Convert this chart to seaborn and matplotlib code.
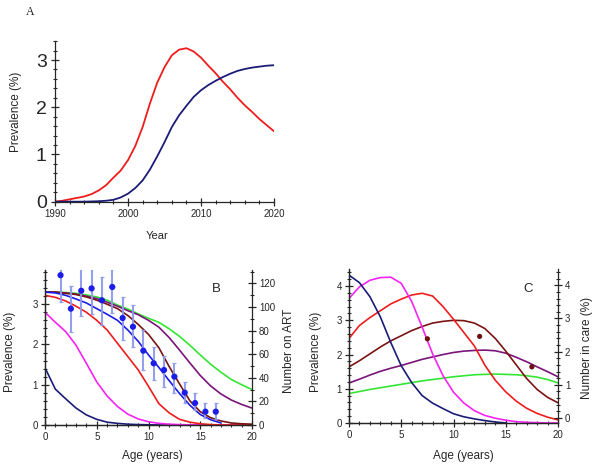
import numpy as np
import pandas as pd
import seaborn as sns
import matplotlib.pyplot as plt
from matplotlib.ticker import MultipleLocator

# ---- panel A: prevalence over calendar time
years = list(range(1990, 2021))
a_red = [0.0, 0.02, 0.05, 0.08, 0.11, 0.16, 0.24, 0.35, 0.51, 0.66, 0.88,
         1.18, 1.58, 2.08, 2.52, 2.85, 3.10, 3.22, 3.25, 3.18, 3.05,
         2.88, 2.72, 2.54, 2.38, 2.20, 2.04, 1.90, 1.75, 1.62, 1.49]
a_navy = [0.0, 0.0, 0.0, 0.0, 0.0, 0.005, 0.01, 0.02, 0.04, 0.09, 0.17,
          0.29, 0.45, 0.68, 0.96, 1.26, 1.58, 1.83, 2.03, 2.22, 2.36,
          2.47, 2.56, 2.64, 2.71, 2.77, 2.81, 2.84, 2.86, 2.88, 2.89]

# ---- panel B: prevalence by age, number on ART
ages = list(range(0, 21))
nan = np.nan
b_navy = [1.42, 0.89, 0.65, 0.42, 0.25, 0.14, 0.07, 0.04, 0.02, 0.01, 0.005,
          0.0, 0.0, 0.0, 0.0, 0.0, 0.0, 0.0, nan, nan, nan]
b_magenta = [2.80, 2.55, 2.32, 1.98, 1.53, 1.07, 0.72, 0.46, 0.27, 0.15, 0.08,
             0.04, 0.02, 0.01, 0.0, 0.0, 0.0, 0.0, 0.0, 0.0, 0.0]
b_red = [3.22, 3.17, 3.08, 2.95, 2.80, 2.60, 2.36, 2.03, 1.70, 1.37, 0.96,
         0.53, 0.30, 0.14, 0.07, 0.03, 0.01, 0.0, 0.0, 0.0, 0.0]
b_blue = [3.30, 3.28, 3.22, 3.13, 3.03, 2.89, 2.75, 2.60, 2.36, 2.08, 1.74,
          1.43, 1.10, 0.78, 0.49, 0.26, 0.13, 0.05, nan, nan, nan]
b_brown = [3.30, 3.30, 3.27, 3.24, 3.18, 3.10, 3.00, 2.89, 2.72, 2.50, 2.25,
           1.92, 1.45, 1.02, 0.60, 0.33, 0.18, 0.10, 0.05, 0.03, 0.02]
b_purple = [3.30, 3.30, 3.28, 3.25, 3.20, 3.14, 3.05, 2.95, 2.84, 2.74, 2.60,
            2.43, 2.17, 1.86, 1.54, 1.23, 0.97, 0.77, 0.62, 0.51, 0.42]
b_green = [3.30, 3.30, 3.29, 3.27, 3.23, 3.18, 3.10, 2.98, 2.88, 2.76, 2.65,
           2.55, 2.39, 2.20, 1.98, 1.74, 1.51, 1.31, 1.13, 1.00, 0.88]

art_age = [1.5, 2.5, 3.5, 4.5, 5.5, 6.5, 7.5, 8.5, 9.5, 10.5, 11.5, 12.5,
           13.5, 14.5, 15.5, 16.5]
art_n = [127, 98.6, 113.8, 115.8, 105.7, 117, 90.7, 83.3, 63, 52.3, 46.6,
         41, 27.4, 18.6, 11.3, 11.3]
art_lo = [104.5, 79, 92, 94, 84.7, 95, 72, 65.8, 46.6, 38, 32.5, 27.4,
          18.4, 12.7, 5.7, 4.8]
art_hi = [132, 117.8, 132, 132, 125.7, 132, 108.7, 101.7, 80.5, 66.4, 58.5,
          52.3, 36.7, 26.9, 18.4, 18.4]

# ---- panel C: prevalence by age, number in care
c_navy = [4.32, 4.10, 3.69, 3.10, 2.35, 1.67, 1.18, 0.80, 0.58, 0.42, 0.27,
          0.18, 0.12, 0.07, 0.03, 0.0, nan, nan, nan, nan, nan]
c_magenta = [3.64, 3.98, 4.17, 4.25, 4.26, 4.08, 3.55, 2.80, 2.02, 1.38, 0.90,
             0.58, 0.36, 0.22, 0.14, 0.08, 0.04, 0.02, 0.01, 0.0, 0.0]
c_red = [2.47, 2.85, 3.08, 3.28, 3.48, 3.62, 3.74, 3.79, 3.71, 3.40, 3.03,
         2.64, 2.25, 1.69, 1.25, 0.91, 0.64, 0.43, 0.28, 0.17, 0.09]
c_brown = [1.64, 1.82, 2.02, 2.22, 2.40, 2.55, 2.70, 2.82, 2.92, 2.97, 3.00,
           2.99, 2.92, 2.76, 2.47, 2.10, 1.70, 1.30, 0.98, 0.75, 0.59]
c_purple = [1.17, 1.28, 1.40, 1.51, 1.60, 1.68, 1.77, 1.86, 1.93, 2.00, 2.06,
            2.10, 2.12, 2.13, 2.11, 2.04, 1.92, 1.79, 1.64, 1.50, 1.35]
c_green = [0.86, 0.92, 0.98, 1.03, 1.08, 1.13, 1.18, 1.23, 1.27, 1.31, 1.35,
           1.38, 1.41, 1.42, 1.43, 1.42, 1.41, 1.38, 1.34, 1.27, 1.17]
care_age = [7.5, 12.5, 17.5]
care_prev = [2.46, 2.53, 1.64]

colors = {'navy': '#1b1b78', 'red': '#f01c1c', 'magenta': '#f523f5',
          'brown': '#7a1414', 'purple': '#7a147a', 'green': '#33e633',
          'blue': '#1c1ce8'}


def long_frame(x, series):
    frames = [pd.DataFrame({'x': x, 'y': vals, 'curve': name}) for name, vals in series.items()]
    return pd.concat(frames, ignore_index=True)


def style_axis(ax, right=False):
    ax.spines['top'].set_visible(False)
    ax.spines['right'].set_visible(right)
    for side in ['left', 'bottom', 'right']:
        ax.spines[side].set_linewidth(0.9)
    ax.tick_params(which='major', direction='inout', length=6, width=0.9, labelsize=7, pad=2)
    ax.tick_params(which='minor', direction='inout', length=3.5, width=0.8)


sns.set_style('ticks')
plt.rcParams['font.family'] = ['Liberation Sans', 'DejaVu Sans']

fig = plt.figure(figsize=(6, 4.75), dpi=100)

# panel A
axA = fig.add_axes([0.0917, 0.5754, 0.365, 0.338])
dfA = long_frame(years, {'red': a_red, 'navy': a_navy})
sns.lineplot(data=dfA, x='x', y='y', hue='curve', palette=colors, estimator=None,
             sort=False, legend=False, lw=1.3, ax=axA)
axA.set_xlim(1990, 2020)
axA.set_ylim(0, 3.4)
style_axis(axA)
axA.set_xticks([1990, 2000, 2010, 2020])
axA.xaxis.set_minor_locator(MultipleLocator(2))
axA.set_yticks([0, 1, 2, 3])
axA.yaxis.set_minor_locator(MultipleLocator(0.2))
axA.tick_params(axis='y', which='major', labelsize=14, pad=3)
axA.set_xlabel('Year', fontsize=8)
axA.xaxis.set_label_coords(0.466, -0.18)
axA.set_ylabel('Prevalence (%)', fontsize=8.5)
axA.yaxis.set_label_coords(-0.15, 0.56)
fig.text(30 / 600, 1 - 12 / 475, 'A', family=['Liberation Serif', 'DejaVu Serif'],
         fontsize=8.5, ha='center', va='center')

# panel B
axB = fig.add_axes([0.075, 0.1053, 0.345, 0.3263])
dfB = long_frame(ages, {'navy': b_navy, 'magenta': b_magenta, 'red': b_red,
                        'green': b_green, 'purple': b_purple, 'brown': b_brown,
                        'blue': b_blue})
sns.lineplot(data=dfB, x='x', y='y', hue='curve', palette=colors, estimator=None,
             sort=False, legend=False, lw=1.2, ax=axB)
axB.set_xlim(0, 20)
axB.set_ylim(0, 3.85)
style_axis(axB)
axB.set_xticks([0, 5, 10, 15, 20])
axB.xaxis.set_minor_locator(MultipleLocator(1))
axB.set_yticks([0, 1, 2, 3])
axB.yaxis.set_minor_locator(MultipleLocator(0.2))
axB.set_xlabel('Age (years)', fontsize=8.5)
axB.xaxis.set_label_coords(0.52, -0.16)
axB.set_ylabel('Prevalence (%)', fontsize=8.5)
axB.yaxis.set_label_coords(-0.14, 0.47)
axB.text(0.83, 0.877, 'B', transform=axB.transAxes, fontsize=9.5, ha='center', va='center')

axB2 = axB.twinx()
art = pd.DataFrame({'age': art_age, 'n': art_n, 'lo': art_lo, 'hi': art_hi})
axB2.errorbar(art['age'], art['n'], yerr=[art['n'] - art['lo'], art['hi'] - art['n']],
              fmt='none', ecolor='#8e9bec', elinewidth=1.5, capsize=1.5, capthick=0.9,
              alpha=0.95)
sns.scatterplot(data=art, x='age', y='n', color=colors['blue'], s=20, edgecolor='none',
                ax=axB2, zorder=5)
axB2.set_ylim(0, 131.4)
style_axis(axB2, right=True)
axB2.set_yticks([0, 20, 40, 60, 80, 100, 120])
axB2.yaxis.set_minor_locator(MultipleLocator(10))
axB2.set_ylabel('Number on ART', fontsize=8.5)
axB2.yaxis.set_label_coords(1.15, 0.48)
axB2.set_xlabel('')

# panel C
axC = fig.add_axes([0.5817, 0.1095, 0.3483, 0.3242])
dfC = long_frame(ages, {'green': c_green, 'purple': c_purple, 'brown': c_brown,
                        'red': c_red, 'magenta': c_magenta, 'navy': c_navy})
sns.lineplot(data=dfC, x='x', y='y', hue='curve', palette=colors, estimator=None,
             sort=False, legend=False, lw=1.2, ax=axC)
care = pd.DataFrame({'age': care_age, 'prev': care_prev})
sns.scatterplot(data=care, x='age', y='prev', color='#6a1010', s=14, edgecolor='none',
                ax=axC, zorder=5)
axC.set_xlim(0, 20)
axC.set_ylim(0, 4.5)
style_axis(axC)
axC.set_xticks([0, 5, 10, 15, 20])
axC.xaxis.set_minor_locator(MultipleLocator(1))
axC.set_yticks([0, 1, 2, 3, 4])
axC.yaxis.set_minor_locator(MultipleLocator(0.2))
axC.set_xlabel('Age (years)', fontsize=8.5)
axC.xaxis.set_label_coords(0.545, -0.175)
axC.set_ylabel('Prevalence (%)', fontsize=8.5)
axC.yaxis.set_label_coords(-0.127, 0.46)
axC.text(0.856, 0.87, 'C', transform=axC.transAxes, fontsize=9.5, ha='center', va='center')

axC2 = axC.twinx()
axC2.set_ylim(-0.15, 4.49)
style_axis(axC2, right=True)
axC2.set_yticks([0, 1, 2, 3, 4])
axC2.yaxis.set_minor_locator(MultipleLocator(0.2))
axC2.set_ylabel('Number in care (%)', fontsize=8.5)
axC2.yaxis.set_label_coords(1.11, 0.49)

fig.savefig('out.png', dpi=100)
